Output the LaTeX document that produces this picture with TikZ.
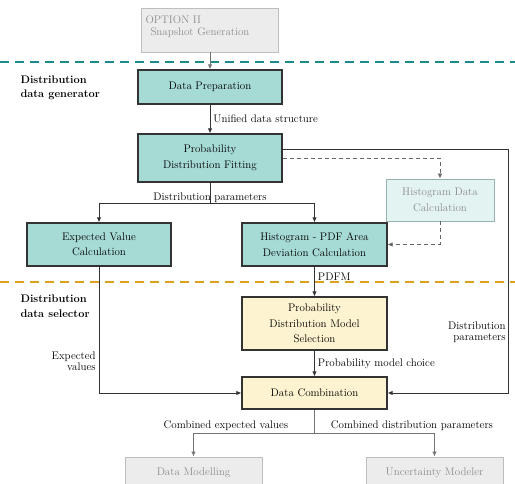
\documentclass[tikz,border=0pt]{standalone}
\usetikzlibrary{arrows.meta}
\definecolor{boxteal}{RGB}{166,218,213}
\definecolor{paleteal}{RGB}{226,243,241}
\definecolor{paleedge}{RGB}{150,178,176}
\definecolor{boxcream}{RGB}{253,243,208}
\definecolor{lineteal}{RGB}{26,140,140}
\definecolor{lineorange}{RGB}{218,160,30}
\definecolor{greyfill}{RGB}{236,236,236}
\definecolor{greyedge}{RGB}{190,190,190}
\definecolor{greytext}{RGB}{140,140,140}
\begin{document}
\begin{tikzpicture}[x=1pt,y=-1pt,font=\fontsize{11}{15.5}\selectfont,
    blk/.style={draw=black!80,line width=1.1pt,fill=boxteal,align=center,inner sep=0pt},
    selblk/.style={blk,fill=boxcream},
    histblk/.style={draw=paleedge,line width=0.9pt,fill=paleteal,text=greytext,align=center,inner sep=0pt},
    ghostblk/.style={draw=greyedge,line width=0.9pt,fill=greyfill,text=greytext,align=center,inner sep=0pt},
    arr/.style={draw=black!80,line width=0.9pt,-{Latex[length=5pt,width=4.5pt]}},
    dasharr/.style={draw=black!60,line width=0.8pt,dash pattern=on 4pt off 3pt,-{Latex[length=5pt,width=4.5pt]}},
    greyarr/.style={draw=black!55,line width=0.9pt,-{Latex[length=5pt,width=4.5pt]}},
    region/.style={font=\fontsize{11}{15.5}\selectfont\bfseries,align=left,anchor=west}]
\useasboundingbox (0,0) rectangle (515,483);

% layer borders
\draw[lineteal,line width=1.8pt,dash pattern=on 9pt off 6pt] (0,62) -- (515,62);
\draw[lineorange,line width=1.8pt,dash pattern=on 9pt off 6pt] (0,282) -- (515,282);
\node[region] (gen) at (17,88) {Distribution\\[-1pt]data generator};
\node[region] (sel-lab) at (17,306) {Distribution\\[-1pt]data selector};

% boxes
\node[ghostblk,minimum width=137,minimum height=44,text width=129pt,align=left] (opt) at (210,30)
    {OPTION II\\[-3pt]\hspace*{5pt}Snapshot Generation\\[-7pt]\mbox{}};
\node[blk,minimum width=144,minimum height=34] (prep) at (210,87) {Data Preparation};
\node[blk,minimum width=144,minimum height=48] (fit) at (210,158) {Probability\\Distribution Fitting};
\node[histblk,minimum width=108,minimum height=42] (hist) at (440,200) {Histogram Data\\Calculation};
\node[blk,minimum width=144,minimum height=43] (ev) at (99,244.5) {Expected Value\\Calculation};
\node[blk,minimum width=145,minimum height=43] (area) at (314.5,244.5) {Histogram - PDF Area\\Deviation Calculation};
\node[selblk,minimum width=145,minimum height=53] (sel) at (314.5,323.5) {Probability\\Distribution Model\\Selection};
\node[selblk,minimum width=145,minimum height=32] (comb) at (314.5,393) {Data Combination};
\node[ghostblk,minimum width=137,minimum height=32] (model) at (193.5,473) {Data Modelling};
\node[ghostblk,minimum width=137,minimum height=32] (unc) at (434.5,473) {Uncertainty Modeler};

% connectors
\draw[greyarr] (opt) -- (prep);
\draw[arr] (prep) -- node[right,inner sep=3pt] (uni) {Unified data structure} (fit);
\draw[draw=black!80,line width=0.9pt] (fit.south) -- ++(0,21) coordinate (split);
\node[above,inner sep=1pt] (dp) at (split) {Distribution parameters};
\draw[arr] (split) -| (ev);
\draw[arr] (split) -| (area);
\draw[dasharr] (fit.east) -| (hist);
\draw[dasharr] (hist.south) |- (area.east);
\coordinate (corner) at (508,149);
\draw[arr] ([yshift=9pt]fit.east) -- (corner) |- node[pos=0.375,left,align=right,inner sep=2pt] (dpr) {Distribution\\[-4pt]parameters} (comb);
\draw[arr] (ev) |- node[pos=0.375,left,align=right,inner sep=3pt] (evl) {Expected\\[-4pt]values} (comb);
\draw[arr] (area) -- node[pos=0.35,right,inner sep=3pt] (pdfm) {PDFM} (sel);
\draw[arr] (sel) -- node[right,inner sep=3pt] (choice) {Probability model choice} (comb);
\draw[draw=black!55,line width=0.9pt] (comb.south) -- ++(0,24) coordinate (fork);
\draw[greyarr] (fork) -| node[pos=0.366,above,inner sep=2pt] (cev) {Combined expected values} (model);
\draw[greyarr] (fork) -| node[pos=0.406,above,inner sep=2pt] (cdp) {Combined distribution parameters} (unc);
\end{tikzpicture}
\end{document}
